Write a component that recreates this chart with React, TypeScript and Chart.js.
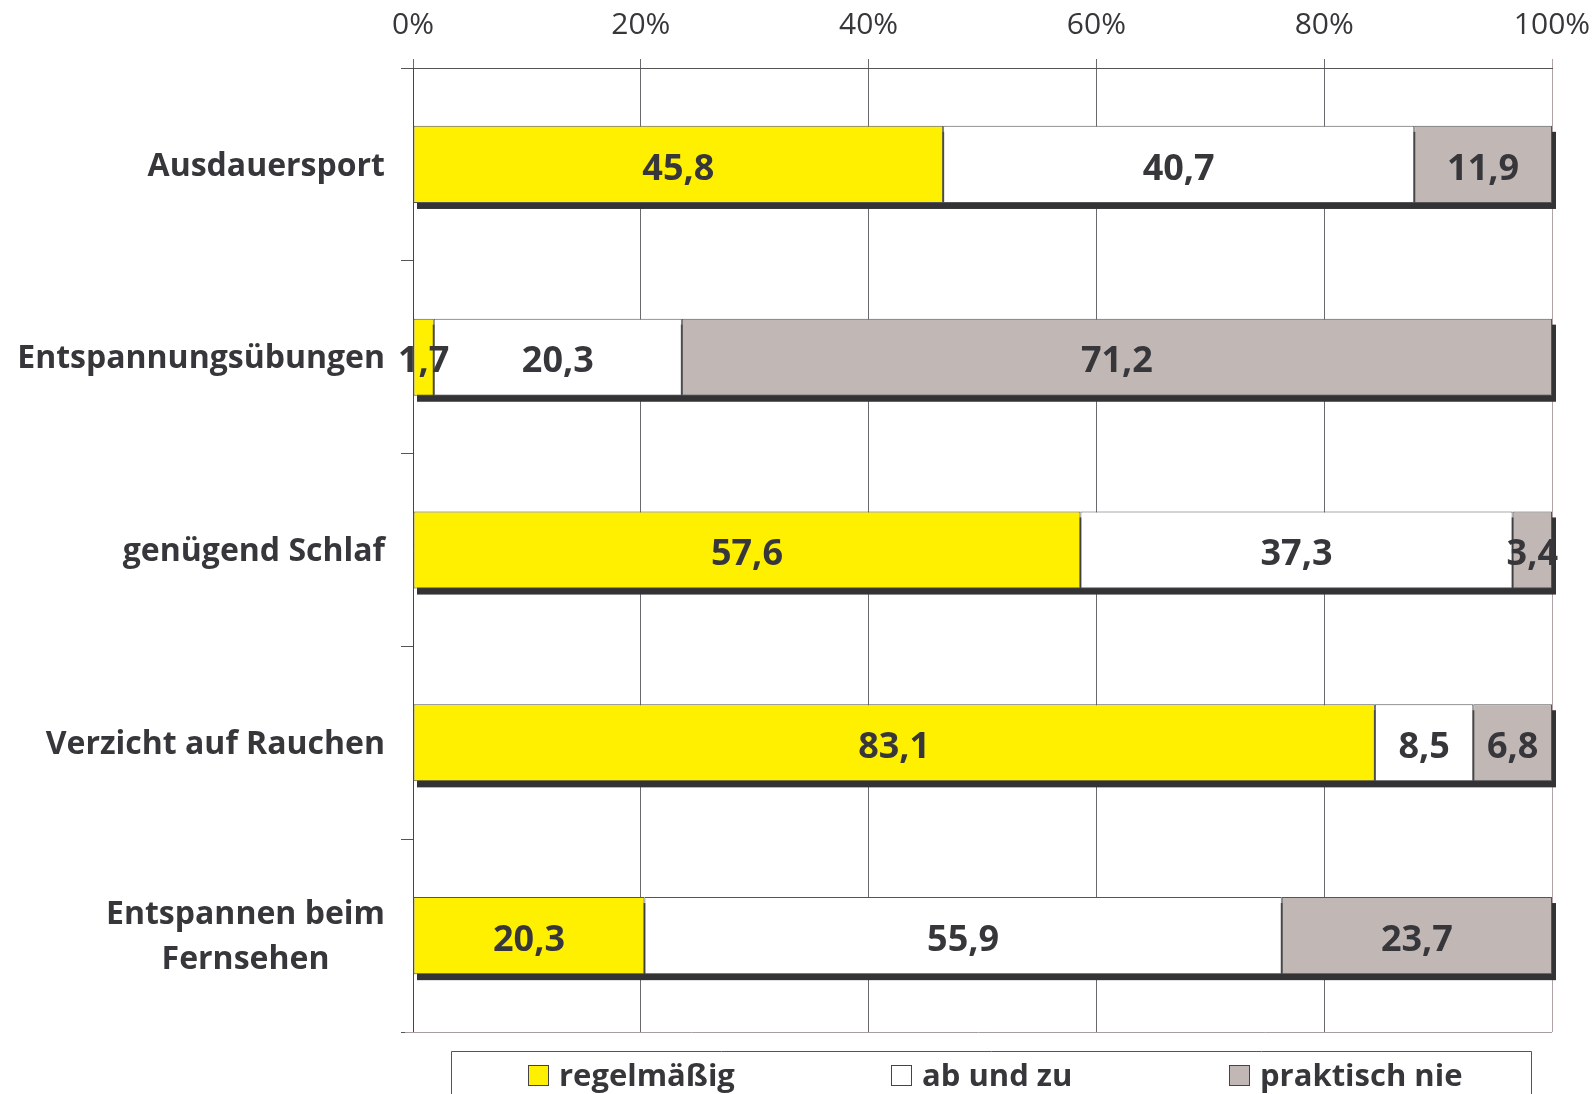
import React, { useEffect, useRef } from "react";
import { Chart, registerables } from "chart.js";

Chart.register(...registerables);

const FONT = '"Open Sans", "DejaVu Sans", sans-serif';
const TEXT = "#37373b";

const categories: (string | string[])[] = [
  "Ausdauersport",
  "Entspannungsübungen",
  "genügend Schlaf",
  "Verzicht auf Rauchen",
  ["Entspannen beim", "Fernsehen"],
];
const seriesNames = ["regelmäßig", "ab und zu", "praktisch nie"];
const regelmaessig = [45.8, 1.7, 57.6, 83.1, 20.3];
const abUndZu = [40.7, 20.3, 37.3, 8.5, 55.9];
const praktischNie = [11.9, 71.2, 3.4, 6.8, 23.7];
const xTickValues = [0, 20, 40, 60, 80, 100];

const seriesColors = ["#fff000", "#ffffff", "#c1b8b5"];
const rawSeries = [regelmaessig, abUndZu, praktischNie];
const totals = categories.map((_, i) => rawSeries.reduce((s, arr) => s + arr[i], 0));

const fmt = (v: number) => v.toFixed(1).replace(".", ",");

const decorPlugin = {
  id: "decor",
  beforeDatasetsDraw(chart: any) {
    const { ctx, scales } = chart;
    const x = scales.x;
    const meta = chart.getDatasetMeta(0);
    ctx.save();
    ctx.fillStyle = "#333336";
    meta.data.forEach((el: any) => {
      const left = x.getPixelForValue(0);
      const right = x.getPixelForValue(100);
      const top = el.y - el.height / 2;
      ctx.fillRect(left + 4, top + 6, right - left, el.height);
    });
    ctx.restore();
  },
  afterDatasetsDraw(chart: any) {
    const { ctx } = chart;
    ctx.save();
    ctx.font = `bold 36px ${FONT}`;
    ctx.fillStyle = TEXT;
    ctx.textAlign = "center";
    ctx.textBaseline = "middle";
    chart.data.datasets.forEach((ds: any, di: number) => {
      const meta = chart.getDatasetMeta(di);
      meta.data.forEach((el: any, i: number) => {
        const cx = (el.x + el.base) / 2;
        ctx.fillText(fmt(rawSeries[di][i]), cx, el.y + 5);
      });
    });
    ctx.restore();
  },
  afterDraw(chart: any) {
    const { ctx, scales, chartArea } = chart;
    const y = scales.y;
    ctx.save();
    // bottom border line
    ctx.strokeStyle = "#a89c9c";
    ctx.lineWidth = 1;
    ctx.beginPath();
    ctx.moveTo(chartArea.left - 8, chartArea.bottom + 0.5);
    ctx.lineTo(chartArea.right, chartArea.bottom + 0.5);
    ctx.stroke();

    // category labels
    ctx.font = `bold 32px ${FONT}`;
    ctx.fillStyle = TEXT;
    ctx.textBaseline = "middle";
    const rightEdge = 385;
    categories.forEach((lab, i) => {
      const cy = y.getPixelForValue(i) + 2;
      const lines = Array.isArray(lab) ? lab : [lab];
      if (lines.length === 1) {
        ctx.textAlign = "right";
        ctx.fillText(lines[0], rightEdge, cy);
      } else {
        const maxW = Math.max(...lines.map((l) => ctx.measureText(l).width));
        const cx = rightEdge - maxW / 2;
        ctx.textAlign = "center";
        const lh = 45;
        lines.forEach((l, k) => {
          ctx.fillText(l, cx, cy + (k - (lines.length - 1) / 2) * lh);
        });
      }
    });

    // legend
    ctx.strokeStyle = "#555";
    ctx.lineWidth = 1;
    ctx.beginPath();
    ctx.moveTo(451.5, 1100);
    ctx.lineTo(451.5, 1051.5);
    ctx.lineTo(1531.5, 1051.5);
    ctx.lineTo(1531.5, 1100);
    ctx.stroke();
    const itemX = [528, 891, 1229];
    ctx.font = `bold 31px ${FONT}`;
    ctx.textAlign = "left";
    seriesNames.forEach((name, k) => {
      const bx = itemX[k];
      ctx.fillStyle = seriesColors[k];
      ctx.fillRect(bx + 0.5, 1065.5, 20, 20);
      ctx.strokeStyle = "#444";
      ctx.strokeRect(bx + 0.5, 1065.5, 20, 20);
      ctx.fillStyle = TEXT;
      ctx.fillText(name, bx + 31, 1077);
    });
    ctx.restore();
  },
};

export default function App() {
  const ref = useRef<HTMLCanvasElement>(null);
  useEffect(() => {
    document.body.style.margin = "0";
    const canvas = ref.current!;
    const chart = new Chart(canvas, {
      type: "bar",
      data: {
        labels: categories.map((c) => (Array.isArray(c) ? c.join(" ") : c)),
        datasets: rawSeries.map((arr, k) => ({
          label: seriesNames[k],
          data: arr.map((v, i) => (v / totals[i]) * 100),
          backgroundColor: seriesColors[k],
          borderColor: "#555558",
          borderWidth: 1,
          borderSkipped: false,
          barPercentage: 0.4,
          categoryPercentage: 1,
        })),
      },
      options: {
        indexAxis: "y",
        responsive: false,
        animation: false,
        events: [],
        layout: { padding: { left: 0, top: 0, right: 44, bottom: 62 } },
        plugins: { legend: { display: false }, tooltip: { enabled: false } },
        scales: {
          x: {
            position: "top",
            stacked: true,
            min: 0,
            max: 100,
            afterBuildTicks: (scale: any) => {
              scale.ticks = xTickValues.map((v) => ({ value: v }));
            },
            afterFit: (scale: any) => {
              scale.height = 68;
              scale.paddingRight = 0;
              scale.paddingLeft = 0;
            },
            ticks: {
              callback: (v: any) => v + "%",
              font: { family: FONT, size: 30 },
              color: TEXT,
              padding: 16,
              maxRotation: 0,
            },
            grid: {
              color: (c: any) => (c.tick && c.tick.value === 100 ? "#b0a4a4" : "#6a6a6e"),
              lineWidth: 1,
              tickLength: 9,
            },
            border: { display: true, color: "#555" },
          },
          y: {
            stacked: true,
            offset: true,
            afterFit: (scale: any) => {
              scale.width = 413;
            },
            ticks: { display: false },
            grid: {
              offset: true,
              drawOnChartArea: false,
              tickLength: 12,
              color: "#555",
            },
            border: { display: true, color: "#444" },
          },
        },
      },
      plugins: [decorPlugin],
    } as any);
    return () => chart.destroy();
  }, []);
  return (
    <div style={{ position: "fixed", left: 0, top: 0, width: 1596, height: 1094, background: "#fff" }}>
      <canvas ref={ref} width={1596} height={1094} />
    </div>
  );
}
